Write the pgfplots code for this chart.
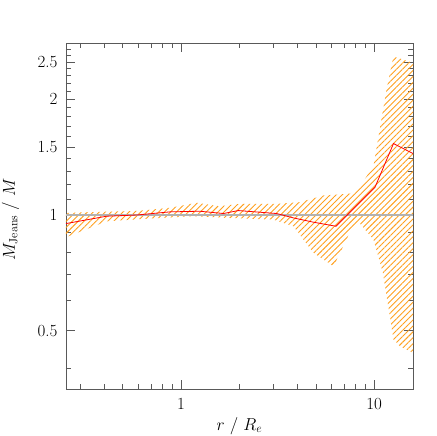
\documentclass[border=0pt]{standalone}
\usepackage{pgfplots}
\pgfplotsset{compat=1.18}
\usetikzlibrary{patterns.meta}

\definecolor{hatch}{RGB}{255,160,30}

\begin{document}
\begin{tikzpicture}
\useasboundingbox (-66pt,-47pt) rectangle (370pt,389pt);
\begin{axis}[
    scale only axis,
    width=347pt, height=346pt,
    xmode=log, ymode=log,
    xmin=0.254, xmax=15.9,
    ymin=0.353, ymax=2.80,
    xtick={1,10}, xticklabels={1,10},
    minor xtick={0.3,0.4,0.5,0.6,0.7,0.8,0.9,2,3,4,5,6,7,8,9},
    ytick={0.5,1,1.5,2,2.5}, yticklabels={0.5,1,1.5,2,2.5},
    minor ytick={0.4,0.6,0.7,0.8,0.9,1.1,1.2,1.3,1.4,1.6,1.7,1.8,1.9,2.1,2.2,2.3,2.4,2.6,2.7},
    xtick pos=both, ytick pos=both,
    xticklabel pos=lower, yticklabel pos=left,
    tick align=inside,
    major tick length=9pt, minor tick length=5pt,
    axis line style={black!65, line width=0.9pt},
    every tick/.style={black!65, line width=0.8pt},
    tick label style={font=\fontsize{17}{19}\selectfont},
    xticklabel style={yshift=-6pt},
    yticklabel style={xshift=-5pt},
    label style={font=\fontsize{17}{19}\selectfont},
    xlabel={$r\ /\ R_e$},
    xlabel style={at={(axis description cs:0.5,0)}, anchor=center, yshift=-37pt},
    ylabel={$M_{\rm Jeans}\ /\ M$},
    ylabel style={at={(axis description cs:-0.16,0.49)}, anchor=center},
]
% uncertainty band
\addplot[draw=none, pattern={Lines[angle=45, distance=4.2pt, line width=0.9pt]}, pattern color=hatch]
  coordinates {
    (0.254,1.013) (0.412,1.020) (0.6,1.025) (0.877,1.044) (1.206,1.076) (1.58,1.054)
    (2.02,1.069) (3.13,1.069) (4.13,1.080) (5.47,1.124) (7.51,1.137) (8.45,1.188)
    (9.92,1.339) (11.6,2.12) (12.6,2.585) (15.9,2.485)
    (15.9,0.438) (13.6,0.456) (12.6,0.475) (11.1,0.709) (9.92,0.864) (8.27,0.962)
    (7.65,0.926) (7.2,0.864) (6.16,0.736) (4.85,0.798) (3.82,0.935) (3.01,0.973)
    (1.725,0.983) (1.158,0.993) (0.638,0.977) (0.412,0.963) (0.254,0.876) (0.254,1.013)
  };
% reference line
\addplot[black!30, line width=1.2pt] coordinates {(0.254,1) (15.9,1)};
% ratio
\addplot[red, line width=0.8pt] coordinates {
    (0.254,0.950) (0.412,0.993) (0.59,1.0) (0.877,1.019) (1.25,1.023) (1.66,1.009)
    (1.98,1.027) (3.13,1.009) (3.82,0.983) (4.85,0.958) (6.35,0.935) (10.1,1.18)
    (12.6,1.534) (15.9,1.445)
};
\end{axis}
\end{tikzpicture}
\end{document}
